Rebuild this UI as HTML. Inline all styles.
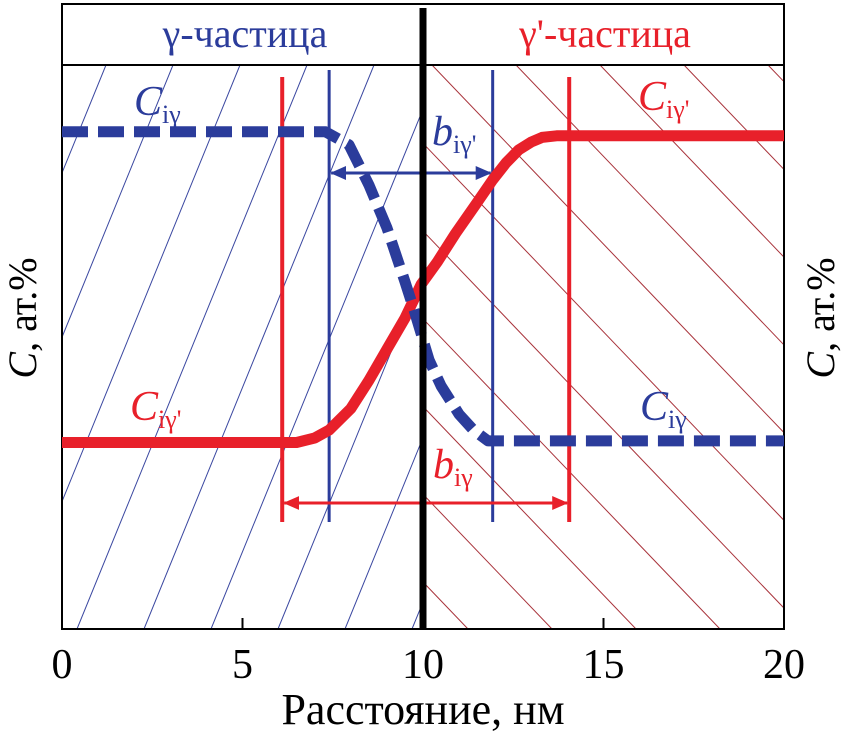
<!DOCTYPE html>
<html><head><meta charset="utf-8"><style>
body{margin:0;background:#fff}
svg text{font-family:"Liberation Serif",serif}
</style></head><body>
<svg width="846" height="739" viewBox="0 0 846 739">
<defs>
<clipPath id="lc"><rect x="63" y="65" width="360" height="564"/></clipPath>
<clipPath id="rc"><rect x="423" y="65" width="361" height="564"/></clipPath>
</defs>
<g id="hatch"></g>
<rect x="62" y="4" width="722" height="625" fill="none" stroke="#000" stroke-width="2"/>
<line x1="62" y1="65" x2="784" y2="65" stroke="#000" stroke-width="2"/>
<text x="245" y="47" font-size="40" fill="#2b3c9b" text-anchor="middle">γ-частица</text>
<text x="605" y="47" font-size="40" fill="#e8202a" text-anchor="middle">γ'-частица</text>
<g id="marks"></g>
<line x1="423" y1="8" x2="423" y2="629" stroke="#000" stroke-width="7"/>
<g id="axis"></g>
<text x="423" y="724" font-size="44" text-anchor="middle">Расстояние, нм</text>
<text transform="translate(36,318) rotate(-90)" font-size="40" text-anchor="middle"><tspan font-style="italic">C</tspan>, ат.%</text>
<text transform="translate(834,318) rotate(-90)" font-size="40" text-anchor="middle"><tspan font-style="italic">C</tspan>, ат.%</text>
<g font-size="42" font-style="italic">
<text x="134" y="115" fill="#2b3c9b">C<tspan font-size="26" font-style="normal" dy="8">iγ</tspan></text>
<text x="432" y="145" fill="#2b3c9b">b<tspan font-size="26" font-style="normal" dy="8">iγ'</tspan></text>
<text x="638" y="110" fill="#e8202a">C<tspan font-size="26" font-style="normal" dy="8">iγ'</tspan></text>
<text x="130" y="420" fill="#e8202a">C<tspan font-size="26" font-style="normal" dy="8">iγ'</tspan></text>
<text x="640" y="420" fill="#2b3c9b">C<tspan font-size="26" font-style="normal" dy="8">iγ</tspan></text>
<text x="433" y="478" fill="#e8202a">b<tspan font-size="26" font-style="normal" dy="8">iγ</tspan></text>
</g>
</svg>
<script>
const xTicks=[0,5,10,15,20];
const redX=[0,6.5,7.0,7.4,8.0,8.5,9.0,9.5,9.95,10.4,10.9,11.5,11.93,12.3,12.65,13.0,13.3,13.7,20];
const redC=[33,33,33.8,35.2,39,44,49.5,55,61,65,70,75.5,79.5,82.5,84.8,86.2,87,87.3,87.3];
const blueX=[0,7.3,7.95,8.5,9.0,9.5,9.75,10.17,10.5,11.0,11.4,11.8,20];
const blueC=[88,88,85.7,78.6,71,61.5,56.5,47.6,43,38,35.2,33.3,33.3];
const redBounds=[6.1,14.05];
const blueBounds=[7.4,11.93];
const NS="http://www.w3.org/2000/svg";
const X=v=>62+v*36.1, Y=c=>629-c*5.65;
function mk(tag,attrs,parent){const e=document.createElementNS(NS,tag);for(const k in attrs)e.setAttribute(k,attrs[k]);parent.appendChild(e);return e;}
const hatch=document.getElementById('hatch');
const gl=mk('g',{'clip-path':'url(#lc)'},hatch), gr=mk('g',{'clip-path':'url(#rc)'},hatch);
for(let b=-400;b<500;b+=67){const l=mk('line',{x1:75+b,y1:629,x2:75+b+230,y2:65,stroke:'#3a47a0','stroke-width':1},gl);

}
for(let b=300;b<1400;b+=84){const l=mk('line',{x1:b,y1:629,x2:b-540,y2:65,stroke:'#a8323a','stroke-width':1},gr);

}
const marks=document.getElementById('marks');
redBounds.forEach(v=>{const l=mk('line',{x1:X(v),y1:77,x2:X(v),y2:522,stroke:'#e8202a','stroke-width':4},marks);

});
blueBounds.forEach(v=>{const l=mk('line',{x1:X(v),y1:70,x2:X(v),y2:522,stroke:'#2b3c9b','stroke-width':3},marks);

});
const defs=document.querySelector('defs');
const m=mk('marker',{id:'ar',markerWidth:16,markerHeight:14,refX:15,refY:7,orient:'auto-start-reverse',markerUnits:'userSpaceOnUse'},defs);mk('path',{d:'M0,0 L16,7 L0,14 Z',fill:'#e8202a'},m);
const m2=mk('marker',{id:'ab2',markerWidth:16,markerHeight:14,refX:15,refY:7,orient:'auto-start-reverse',markerUnits:'userSpaceOnUse'},defs);mk('path',{d:'M0,0 L16,7 L0,14 Z',fill:'#2b3c9b'},m2);
const ra=mk('line',{x1:X(redBounds[0])+2,y1:503,x2:X(redBounds[1])-2,y2:503,stroke:'#e8202a','stroke-width':3,'marker-start':'url(#ar)','marker-end':'url(#ar)'},marks);


const ba=mk('line',{x1:X(blueBounds[0])+2,y1:173,x2:X(blueBounds[1])-2,y2:173,stroke:'#2b3c9b','stroke-width':3,'marker-start':'url(#ab2)','marker-end':'url(#ab2)'},marks);


const path=(xs,cs)=>xs.map((v,i)=>(i?'L':'M')+X(v).toFixed(1)+','+Y(cs[i]).toFixed(1)).join(' ');
const rp=mk('path',{d:path(redX,redC),fill:'none',stroke:'#e8202a','stroke-width':11,'stroke-linejoin':'round'},marks);


const bp=mk('path',{d:path(blueX,blueC),fill:'none',stroke:'#2b3c9b','stroke-width':11,'stroke-dasharray':'26,10','stroke-linejoin':'round'},marks);


const ax=document.getElementById('axis');
xTicks.forEach(t=>{const l=mk('line',{x1:X(t),y1:629,x2:X(t),y2:618,stroke:'#000','stroke-width':2},ax);


const tx=mk('text',{x:X(t),y:678,'font-size':42,'text-anchor':'middle'},ax);tx.textContent=t;

});
</script>
</body></html>
